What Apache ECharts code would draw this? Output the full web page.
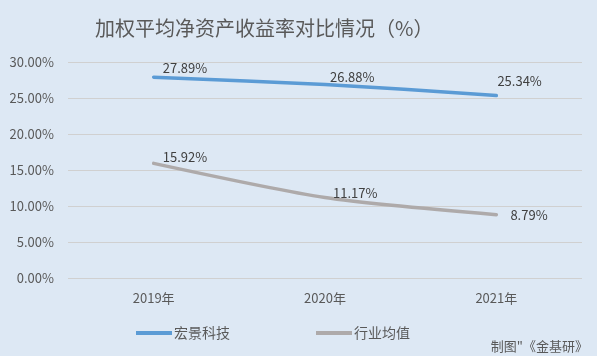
<!DOCTYPE html>
<html><head><meta charset="utf-8">
<script src="https://cdn.jsdelivr.net/npm/echarts@6/dist/echarts.min.js"></script>
<style>html,body{margin:0;padding:0;background:#dde8f4}#c{width:597px;height:356px}</style>
</head><body><div id="c"></div>
<script>
const categories = ['2019年', '2020年', '2021年'];
const seriesNames = ['宏景科技', '行业均值'];
const hongjing = [27.89, 26.88, 25.34];
const industry = [15.92, 11.17, 8.79];
const yTicks = [0, 5, 10, 15, 20, 25, 30];

// label placement (style only)
const hjLabelOffsets = [[9, -9], [5, -7], [1, -14]];
const indLabelOffsets = [[9, -6], [8, -5], [14, 0]];

const chart = echarts.init(document.getElementById('c'));
const font = '"Microsoft YaHei","Noto Sans CJK SC",sans-serif';
const baseLabel = { show: true, position: 'right', distance: 0, color: '#404040', fontSize: 13, fontFamily: font,
  formatter: p => p.value.toFixed(2) + '%' };
function items(values, offsets) {
  return values.map((v, i) => ({ value: v, label: { offset: offsets[i] } }));
}
chart.setOption({
  backgroundColor: '#dde8f4',
  animation: false,
  title: { text: '加权平均净资产收益率对比情况（%）', left: 90, top: 13,
    textStyle: { color: '#595959', fontSize: 20, fontWeight: 'normal', fontFamily: font } },
  graphic: [{ type: 'text', right: 9, bottom: 3, style: { text: '制图"《金基研》', fill: '#595959', font: '13px ' + font } }],
  legend: { bottom: 11, left: 131, itemWidth: 36, itemHeight: 4, itemGap: 86, icon: 'rect',
    textStyle: { color: '#595959', fontSize: 14, fontFamily: font, padding: [0,0,0,-3] },
    data: seriesNames },
  grid: { left: 68, right: 15, top: 62, bottom: 78 },
  xAxis: { type: 'category', data: categories, boundaryGap: true,
    axisLine: { show: false }, axisTick: { show: false },
    axisLabel: { color: '#595959', fontSize: 13, fontFamily: font, margin: 14 } },
  yAxis: { type: 'value', min: yTicks[0], max: yTicks[yTicks.length - 1], interval: 5,
    axisLabel: { color: '#595959', fontSize: 13, fontFamily: font, margin: 14, formatter: v => v.toFixed(2) + '%' },
    splitLine: { lineStyle: { color: '#d0d0d0', width: 1 } }, axisLine: { show: false }, axisTick: { show: false } },
  series: [
    { name: seriesNames[0], type: 'line', data: items(hongjing, hjLabelOffsets), smooth: 0.25, symbol: 'circle', symbolSize: 0.1, showSymbol: true,
      lineStyle: { color: '#5b9bd5', width: 3.5, cap: 'round' }, itemStyle: { color: '#5b9bd5' },
      label: baseLabel },
    { name: seriesNames[1], type: 'line', data: items(industry, indLabelOffsets), smooth: 0.25, symbol: 'circle', symbolSize: 0.1, showSymbol: true,
      lineStyle: { color: '#aeaaaa', width: 3.5, cap: 'round' }, itemStyle: { color: '#aeaaaa' },
      label: baseLabel }
  ]
});
</script></body></html>
